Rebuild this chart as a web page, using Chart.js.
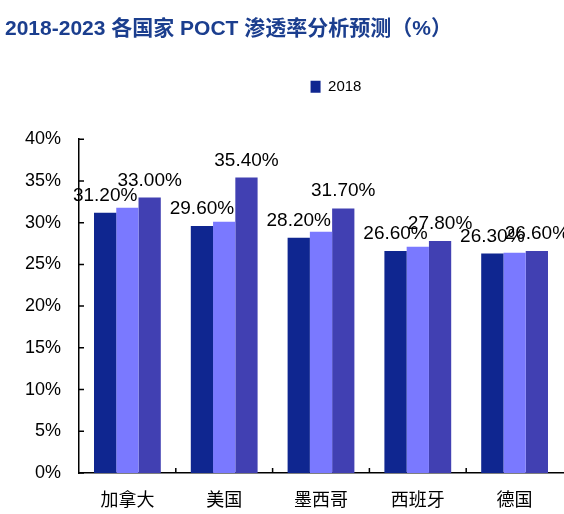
<!DOCTYPE html>
<html>
<head>
<meta charset="utf-8">
<script src="https://cdn.jsdelivr.net/npm/chart.js@4.4.0/dist/chart.umd.min.js"></script>
<style>
  html, body { margin: 0; padding: 0; background: #fff; overflow: hidden; }
  #wrap { width: 564px; height: 514px; }
</style>
</head>
<body>
<div id="wrap"><canvas id="barChart"></canvas></div>
<script>
"use strict"

// Data
const countries = ['加拿大', '美国', '墨西哥', '西班牙', '德国'];
const seriesNames = ['2018', '2019', '2023'];
const values2018 = [31.2, 29.6, 28.2, 26.6, 26.3];
const values2019 = [31.8, 30.1, 28.9, 27.1, 26.4];
const values2023 = [33.0, 35.4, 31.7, 27.8, 26.6];
const yMax = 40;
const yStep = 5;
const labeledSeries = [0, 2];     // serier som har värdeetiketter
const legendSeries = ['2018'];    // serier som syns i förklaringen

const colors = ['#0f2690', '#7a79ff', '#4140b2'];
const latin = "'Liberation Sans', Arial, sans-serif";
const cjk = "'Noto Sans CJK SC', sans-serif";

/**
 * Ritar värdeetiketter ovanför staplarna.
 */
const valueLabels = {
    id: 'valueLabels',
    afterDatasetsDraw(chart) {
        const ctx = chart.ctx;
        ctx.save();
        ctx.font = '19px ' + latin;
        ctx.fillStyle = '#000';
        ctx.textAlign = 'center';
        ctx.textBaseline = 'alphabetic';
        labeledSeries.forEach(di => {
            const meta = chart.getDatasetMeta(di);
            meta.data.forEach((bar, i) => {
                const v = chart.data.datasets[di].data[i];
                ctx.fillText(v.toFixed(2) + '%', bar.x, bar.y - 12);
            });
        });
        ctx.restore();
    }
};

/**
 * Korta tickmarkeringar som pekar in i diagrammet.
 */
const innerTicks = {
    id: 'innerTicks',
    afterDraw(chart) {
        const { ctx, chartArea, scales } = chart;
        ctx.save();
        ctx.strokeStyle = '#000';
        ctx.lineWidth = 1.5;
        ctx.beginPath();
        scales.y.ticks.forEach((t, i) => {
            const y = scales.y.getPixelForTick(i);
            ctx.moveTo(chartArea.left, y);
            ctx.lineTo(chartArea.left + 5, y);
        });
        for (let i = 0; i < countries.length - 1; i++) {
            const x = (scales.x.getPixelForValue(i) + scales.x.getPixelForValue(i + 1)) / 2;
            ctx.moveTo(x, chartArea.bottom);
            ctx.lineTo(x, chartArea.bottom - 5);
        }
        ctx.stroke();
        ctx.restore();
    }
};

// Flyttar förklaringen något åt höger, som i originalet
const legendShift = {
    id: 'legendShift',
    afterLayout(chart) {
        chart.legend.left += 104;
    }
};

function createBarChart() {
    const ctx = document.getElementById('barChart').getContext('2d');
    const series = [values2018, values2019, values2023];

    new Chart(ctx, {
        type: 'bar',
        data: {
            labels: countries,
            datasets: series.map((vals, i) => ({
                label: seriesNames[i],
                data: vals,
                backgroundColor: colors[i],
                borderWidth: 0,
                categoryPercentage: 0.69,
                barPercentage: 1.0
            }))
        },
        options: {
            responsive: true,
            maintainAspectRatio: false,
            animation: false,
            layout: { padding: { left: 5, right: 1, top: 0, bottom: 0 } },
            plugins: {
                title: {
                    display: true,
                    text: '2018-2023 各国家 POCT 渗透率分析预测（%）',
                    align: 'start',
                    color: '#1b3e8e',
                    font: { family: "'Liberation Sans', " + cjk, size: 21, weight: 'bold' },
                    padding: { top: 17, bottom: 27 }
                },
                legend: {
                    position: 'top',
                    align: 'center',
                    labels: {
                        boxWidth: 10,
                        boxHeight: 12,
                        color: '#000',
                        font: { family: latin, size: 15 },
                        padding: 10,
                        filter: item => legendSeries.includes(item.text)
                    }
                },
                // tomt utrymme mellan förklaringen och diagrammet
                subtitle: {
                    display: true,
                    text: ' ',
                    weight: 500,
                    font: { size: 10, lineHeight: 1 },
                    padding: { top: 0, bottom: 25 }
                },
                tooltip: { enabled: false }
            },
            scales: {
                x: {
                    grid: { display: false },
                    border: { color: '#000', width: 1.5 },
                    ticks: { color: '#000', font: { family: cjk, size: 18 }, padding: 7 },
                    afterFit(scale) { scale.height = 41; }
                },
                y: {
                    min: 0,
                    max: yMax,
                    grid: { display: false },
                    border: { color: '#000', width: 1.5 },
                    ticks: {
                        stepSize: yStep,
                        color: '#000',
                        font: { family: latin, size: 18 },
                        padding: 10,
                        callback: v => v + '%'
                    },
                    afterFit(scale) { scale.width = 74; }
                }
            }
        },
        plugins: [valueLabels, innerTicks, legendShift]
    });
}

createBarChart();
</script>
</body>
</html>
